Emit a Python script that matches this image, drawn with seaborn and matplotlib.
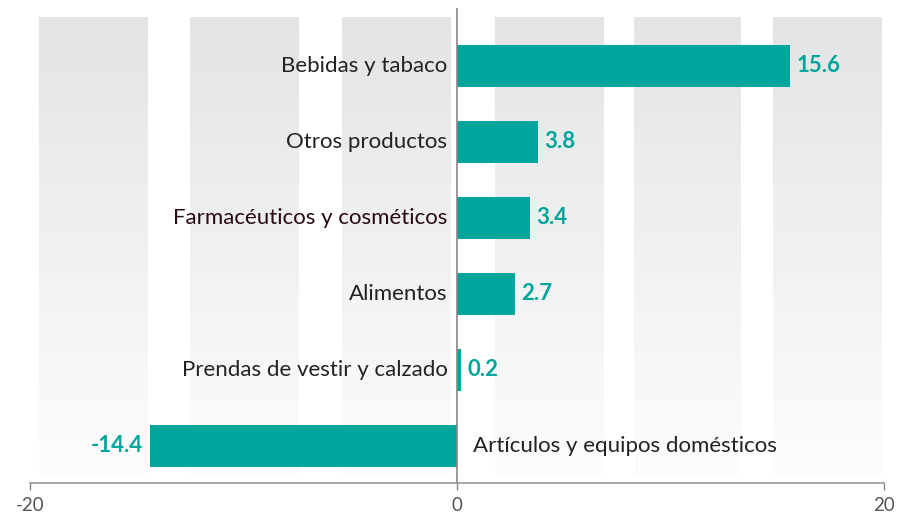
import matplotlib.pyplot as plt
from matplotlib.colors import LinearSegmentedColormap
import numpy as np
import pandas as pd
import seaborn as sns

categories = [
    "Bebidas y tabaco",
    "Otros productos",
    "Farmacéuticos y cosméticos",
    "Alimentos",
    "Prendas de vestir y calzado",
    "Artículos y equipos domésticos",
]
values = [15.6, 3.8, 3.4, 2.7, 0.2, -14.4]
tick_values = [-20, 0, 20]
tick_labels = ["-20", "0", "20"]

TEAL = "#00a59b"

df = pd.DataFrame({"categoria": categories, "valor": values})

sns.set_theme(style="white")
plt.rcParams["font.family"] = ["Lato", "DejaVu Sans"]

fig = plt.figure(figsize=(8.98, 5.21), dpi=100)
ax = fig.add_axes([30 / 898, 1 - 483 / 521, 854 / 898, 475 / 521])

# gray background bands fading towards the bottom
bands = [(-19.6, -14.5), (-12.5, -7.4), (-5.4, -0.3), (1.8, 6.9), (8.3, 13.3), (14.8, 19.9)]
cmap = LinearSegmentedColormap.from_list("fade", ["#e3e4e5", "#fdfdfd"])
grad = np.linspace(0, 1, 256).reshape(-1, 1)
for x0, x1 in bands:
    ax.imshow(grad, extent=(x0, x1, 5.38, -0.64), aspect="auto", cmap=cmap,
              vmin=0, vmax=1, zorder=0, interpolation="bilinear")

sns.barplot(data=df, x="valor", y="categoria", orient="h", color=TEAL,
            width=0.55, saturation=1, linewidth=0, ax=ax, zorder=2)

label_colors = ["#222222", "#222222", "#2a0a12", "#222222", "#222222", "#222222"]
for i, (cat, v) in enumerate(zip(categories, values)):
    if v >= 0:
        ax.text(-0.45, i, cat, ha="right", va="center", fontsize=16,
                color=label_colors[i], zorder=3)
        ax.text(v + 0.3, i, f"{v:.1f}", ha="left", va="center", fontsize=16,
                fontweight="bold", color=TEAL, zorder=3)
    else:
        ax.text(0.75, i, cat, ha="left", va="center", fontsize=16,
                color=label_colors[i], zorder=3)
        ax.text(v - 0.3, i, f"{v:.1f}", ha="right", va="center", fontsize=16,
                fontweight="bold", color=TEAL, zorder=3)

ax.set_xlim(-20, 20)
ax.set_ylim(5.49, -0.76)
ax.set_xticks(tick_values)
ax.set_xticklabels(tick_labels, color="#555555", fontsize=13.5)
ax.set_yticks([])
ax.set_xlabel("")
ax.set_ylabel("")
ax.tick_params(axis="x", length=5, width=1, color="#888888", pad=5, bottom=True)

for side in ["top", "right", "left"]:
    ax.spines[side].set_visible(False)
ax.spines["bottom"].set_color("#999999")
ax.spines["bottom"].set_linewidth(1.2)
ax.axvline(0, color="#888888", linewidth=1.2, zorder=4)

fig.savefig("out.png", dpi=100)
